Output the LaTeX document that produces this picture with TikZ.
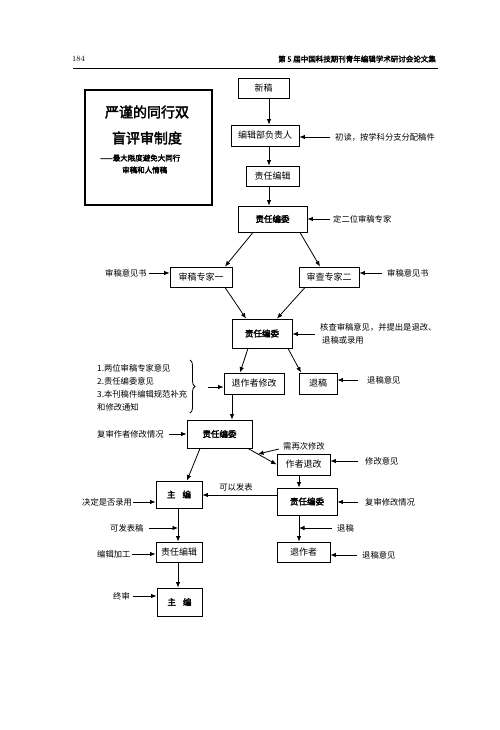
\documentclass[tikz,border=0pt]{standalone}
\usepackage{fontspec}
\newfontfamily\cjk{Noto Sans CJK SC}
\newfontfamily\cjkb[FakeBold=2.5]{Noto Sans CJK SC}
\usetikzlibrary{arrows.meta,decorations.pathreplacing}
\begin{document}
\begin{tikzpicture}[x=1pt,y=-1pt,
  box/.style={draw, line width=0.9pt, inner sep=0pt, font=\cjk\fontsize{9}{9}\selectfont},
  ed/.style={box, font=\cjkb\fontsize{8.5}{8.5}\selectfont},
  side/.style={inner sep=0pt, anchor=west, font=\cjk\fontsize{8.3}{12.5}\selectfont, align=left},
  arr/.style={line width=0.8pt, -{Latex[length=5.5pt,width=4.5pt]}},
]
\useasboundingbox[fill=white] (0,0) rectangle (500,730);

% header
\node[anchor=west, inner sep=0pt, font=\fontsize{8}{8}\selectfont] (pg) at (72,59) {184};
\node[anchor=east, inner sep=0pt, font=\cjkb\fontsize{7.5}{7.5}\selectfont] (hd) at (436,59) {第 5 届中国科技期刊青年编辑学术研讨会论文集};
\draw[line width=0.8pt] (73,68) -- (438,68);

% title box
\node[draw, line width=2.5pt, minimum width=127pt, minimum height=115pt, inner sep=0pt] (tb) at (148.5,147.5) {};
\node[font=\cjkb\fontsize{14}{14}\selectfont, inner sep=0pt] (tt1) at (147,112) {严谨的同行双};
\node[font=\cjkb\fontsize{14}{14}\selectfont, inner sep=0pt] (tt2) at (147,138) {盲评审制度};
\node[font=\cjkb\fontsize{7.5}{7.5}\selectfont, anchor=west, inner sep=0pt] (tt3) at (100,158) {——最大限度避免大同行};
\node[font=\cjkb\fontsize{7.5}{7.5}\selectfont, anchor=west, inner sep=0pt] (tt4) at (122,170) {审稿和人情稿};

% boxes
\node[box, minimum width=51pt, minimum height=20pt] (b1) at (263.5,88) {新稿};
\node[box, minimum width=68pt, minimum height=21pt] (b2) at (265,135.5) {编辑部负责人};
\node[box, minimum width=53pt, minimum height=20pt] (b3) at (272.5,176) {责任编辑};
\node[ed, minimum width=69pt, minimum height=26pt] (b4) at (272.5,219) {责任编委};
\node[box, minimum width=62pt, minimum height=20pt] (b5) at (201,277) {审稿专家一};
\node[box, minimum width=60pt, minimum height=20pt] (b6) at (329,277) {审查专家二};
\node[ed, minimum width=60pt, minimum height=29pt] (b7) at (262,333.5) {责任编委};
\node[box, minimum width=60pt, minimum height=21pt] (b8) at (254,383.5) {退作者修改};
\node[box, minimum width=38pt, minimum height=21pt] (b9) at (318,383.5) {退稿};
\node[ed, minimum width=65pt, minimum height=28pt] (b10) at (219.5,434) {责任编委};
\node[box, minimum width=53pt, minimum height=21pt] (b11) at (303.5,464.5) {作者退改};
\node[ed, minimum width=46pt, minimum height=27pt] (b12) at (179,494.5) {主\hspace{7pt}编};
\node[ed, minimum width=60pt, minimum height=27pt] (b13) at (307,501.5) {责任编委};
\node[box, minimum width=46pt, minimum height=20pt] (b14) at (179,552) {责任编辑};
\node[box, minimum width=53pt, minimum height=20pt] (b15) at (303.5,552) {退作者};
\node[ed, minimum width=45pt, minimum height=28pt] (b16) at (179.5,602) {主\hspace{7pt}编};

% column coordinates
\coordinate (c1) at (269,0);
\coordinate (c2) at (232,0);
\coordinate (c3) at (299,0);
\coordinate (c4) at (178,0);
\coordinate (r1) at (0,495);

% main connectors
\draw[arr] (b1.south -| c1) -- (b2.north -| c1);
\draw[arr] (b2.south -| c1) -- (b3.north -| c1);
\draw[arr] (b3.south -| c1) -- (b4.north -| c1);
\draw[arr] ([xshift=-19.5pt]b4.south) -- ([xshift=24pt]b5.north);
\draw[arr] ([xshift=27.5pt]b4.south) -- ([xshift=-9pt]b6.north);
\draw[arr] ([xshift=24pt]b5.south) -- ([xshift=-16pt]b7.north);
\draw[arr] ([xshift=-24pt]b6.south) -- ([xshift=15pt]b7.north);
\draw[arr] ([xshift=-14pt]b7.south) -- ([xshift=-14pt]b8.north);
\draw[arr] ([xshift=26pt]b7.south) -- ([xshift=-17pt]b9.north);
\draw[arr] (b8.south -| c2) -- (b10.north -| c2);
\draw[arr] ([xshift=-19.5pt]b10.south) -- ([xshift=8pt]b12.north);
\draw[arr] ([xshift=28.5pt]b10.south) -- (b11.west);
\draw[arr] (b11.south -| c3) -- (b13.north -| c3);
\draw[arr] (b13.west |- r1) -- (b12.east |- r1);
\draw[arr] (b12.south -| c4) -- (b14.north -| c4);
\draw[arr] (b13.south -| c3) -- (b15.north -| c3);
\draw[arr] (b14.south -| c4) -- (b16.north -| c4);

% side notes
\node[side] (t1) at (335,137) {初读，按学科分支分配稿件};
\draw[arr] ([xshift=-5pt]t1.west) -- (b2.east |- t1.west);
\node[side] (t2) at (333,219) {定二位审稿专家};
\draw[arr] ([xshift=-3pt]t2.west) -- (b4.east |- t2.west);
\node[side] (t3) at (105,273) {审稿意见书};
\draw[arr] ([xshift=2pt]t3.east) -- (b5.west |- t3.east);
\node[side] (t4) at (387,273) {审稿意见书};
\draw[arr] ([xshift=-5pt]t4.west) -- (b6.east |- t4.west);
\node[side] (t5) at (320,334) {核查审稿意见，并提出是退改、\\\hspace{2pt}退稿或录用};
\draw[arr] ([xshift=-5pt]t5.west) -- (b7.east |- t5.west);
\node[side] (t6) at (367,380) {退稿意见};
\draw[arr] ([xshift=-9pt]t6.west) -- (b9.east |- t6.west);
\node[side, font=\cjk\fontsize{8.3}{13}\selectfont] (t7) at (97,387.5) {1.两位审稿专家意见\\2.责任编委意见\\3.本刊稿件编辑规范补充\\和修改通知};
\draw[line width=0.8pt, decorate, decoration={brace, amplitude=5pt}] (190,360) -- (190,413);
\coordinate (br) at (208,387);
\draw[arr] (br) -- (b8.west |- br);
\node[side] (t8) at (97,434) {复审作者修改情况};
\draw[arr] ([xshift=5pt]t8.east) -- (b10.west |- t8.east);
\node[side] (t9) at (283,446) {需再次修改};
\coordinate (n1) at (258,454);
\draw[arr] ([xshift=-4pt,yshift=-3pt]t9.west) -- (n1);
\node[side] (t10) at (365,461) {修改意见};
\draw[arr] ([xshift=-7pt]t10.west) -- (b11.east |- t10.west);
\node[inner sep=0pt, font=\cjk\fontsize{8.3}{8.3}\selectfont] (t11) at (236,487) {可以发表};
\node[side] (t12) at (365,502) {复审修改情况};
\draw[arr] ([xshift=-7pt]t12.west) -- (b13.east |- t12.west);
\node[side] (t13) at (82,502) {决定是否录用};
\draw[arr] ([xshift=1pt]t13.east) -- (b12.west |- t13.east);
\node[side] (t14) at (110,528) {可发表稿};
\draw[arr] ([xshift=5pt]t14.east) -- (c4 |- t14.east);
\node[side] (t15) at (337,528) {退稿};
\draw[arr] ([xshift=-5pt]t15.west) -- (c3 |- t15.west);
\node[side] (t16) at (97,554) {编辑加工};
\draw[arr] ([xshift=1pt]t16.east) -- (b14.west |- t16.east);
\node[side] (t17) at (362,555) {退稿意见};
\draw[arr] ([xshift=-5pt]t17.west) -- (b15.east |- t17.west);
\node[side] (t18) at (113,596) {终审};
\draw[arr] ([xshift=3pt]t18.east) -- (b16.west |- t18.east);
\end{tikzpicture}
\end{document}
